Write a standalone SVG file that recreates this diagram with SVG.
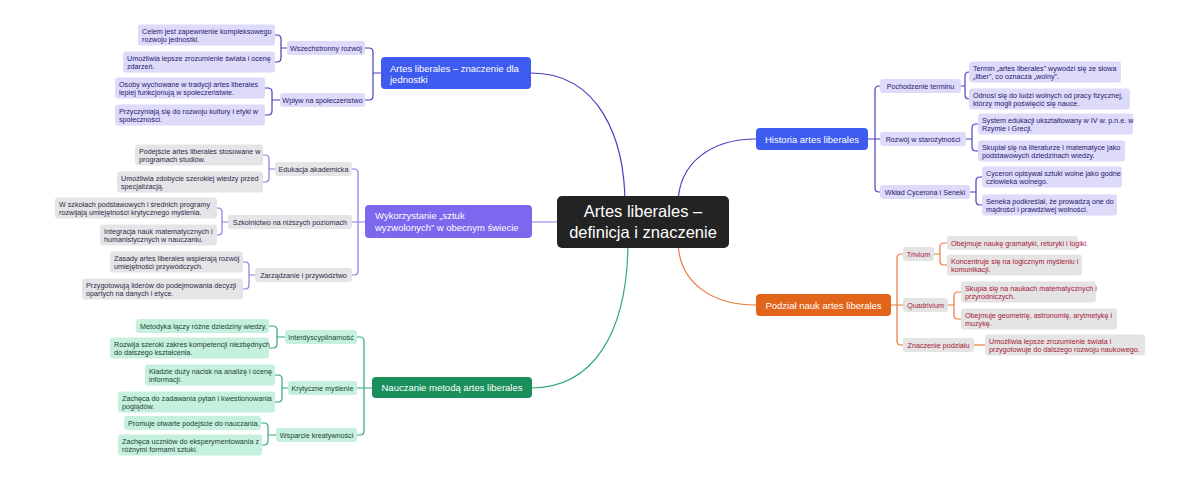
<svg xmlns="http://www.w3.org/2000/svg" width="1200" height="481" viewBox="0 0 1200 481">
<style>
text{font-family:"Liberation Sans",Arial,sans-serif;font-size:7.2px}
.c{fill:none;stroke-width:1.2}
.cB{stroke:#4a3fc0}.cP{stroke:#8a7ae6}.cG{stroke:#35a67a}.cO{stroke:#ea7a3e}
.fB{fill:#dedafa}.tB{fill:#25206a}
.fP{fill:#e5e5e8}.tP{fill:#2d2a45}
.fG{fill:#c5f0de}.tG{fill:#1b4334}
.fO{fill:#e4e4e4}.tO{fill:#a8173a}
.br{font-size:9.5px;fill:#fff}
.m{text-anchor:middle}
</style>
<rect width="1200" height="481" fill="#fff"/>
<g id="connectors">
<path class="c cB" d="M531 73C600 73 625 140 625 205"/>
<path class="c cP" d="M531 222H600"/>
<path class="c cG" d="M628 240C628 335 592 388 531 388"/>
<path class="c cB" d="M678 205C678 162 712 139 756 139"/>
<path class="c cO" d="M678 240C678 283 712 305 756 305"/>
<path class="c cB" d="M381 73H373V52Q373 48 369 48H365M381 73H373V96Q373 100 369 100H365"/>
<path class="c cB" d="M287 48H281V39Q281 35 277 35H275M287 48H281V58Q281 62 277 62H275"/>
<path class="c cB" d="M280 100H272V92Q272 88 268 88H265M280 100H272V111Q272 115 268 115H265"/>
<path class="c cP" d="M365 222H358V173Q358 169 354 169H352M365 222H352M365 222H358V271Q358 275 354 275H352"/>
<path class="c cP" d="M275 169H269V159Q269 155 265 155H263M275 169H269V178Q269 182 265 182H263"/>
<path class="c cP" d="M228 222H222V212Q222 208 218 208H217M228 222H222V231Q222 235 218 235H217"/>
<path class="c cP" d="M255 275H249V266Q249 262 245 262H243M255 275H249V285Q249 289 245 289H243"/>
<path class="c cG" d="M372 388H364V341Q364 337 360 337H357M372 388H357M372 388H364V431Q364 435 360 435H357"/>
<path class="c cG" d="M285 337H277V330Q277 326 273 326H269M285 337H277V344Q277 348 273 348H269"/>
<path class="c cG" d="M288 388H282V379Q282 375 278 375H275M288 388H282V398Q282 402 278 402H275"/>
<path class="c cG" d="M276 435H268V427Q268 423 264 423H261M276 435H268V441Q268 445 264 445H262"/>
<path class="c cB" d="M868 139H875V90Q875 86 879 86H880M868 139H880M868 139H875V188Q875 192 879 192H880"/>
<path class="c cB" d="M961 86H965V76Q965 72 969 72M961 86H965V95Q965 99 969 99"/>
<path class="c cB" d="M966 139H972V128Q972 124 976 124H978M966 139H972V147Q972 151 976 151H978"/>
<path class="c cB" d="M970 192H976V181Q976 177 980 177H982M970 192H976V201Q976 205 980 205H982"/>
<path class="c cO" d="M891 305H897V258Q897 254 901 254H903M891 305H903M891 305H897V341Q897 345 901 345H903"/>
<path class="c cO" d="M934 254H940V247Q940 243 944 243H947M934 254H940V261Q940 265 944 265H947"/>
<path class="c cO" d="M948 305H954V296Q954 292 958 292H961M948 305H954V315Q954 319 958 319H961"/>
<path class="c cO" d="M974 345H985"/>
</g>
<g id="center">
<rect x="557" y="196" width="172" height="52" rx="5" fill="#232323"/>
<text x="643" y="217" class="m" style="font-size:16.5px;fill:#fff">Artes liberales –</text>
<text x="643" y="238" class="m" style="font-size:16.5px;fill:#fff">definicja i znaczenie</text>
</g>
<g id="b1">
<rect x="381" y="57" width="150" height="32" rx="4" fill="#3e5bef"/>
<text x="390" y="72" class="br">Artes liberales – znaczenie dla</text>
<text x="390" y="83" class="br">jednostki</text>
</g>
<g id="b1s1"><rect x="287" y="41" width="78" height="14" rx="3" class="fB"/><text x="326" y="50.5" class="m tB">Wszechstronny rozwój</text></g>
<g id="b1s1l1"><rect x="138" y="24.5" width="137" height="21" rx="3" class="fB"/><text x="142" y="33.5" class="tB">Celem jest zapewnienie kompleksowego</text><text x="142" y="42" class="tB">rozwoju jednostki.</text></g>
<g id="b1s1l2"><rect x="123" y="51.5" width="152" height="21" rx="3" class="fB"/><text x="127" y="60.5" class="tB">Umożliwia lepsze zrozumienie świata i ocenę</text><text x="127" y="69" class="tB">zdarzeń.</text></g>
<g id="b1s2"><rect x="280" y="93" width="85" height="14" rx="3" class="fB"/><text x="322.5" y="102.5" class="m tB">Wpływ na społeczeństwo</text></g>
<g id="b1s2l1"><rect x="115" y="77.5" width="150" height="21" rx="3" class="fB"/><text x="119" y="86.5" class="tB">Osoby wychowane w tradycji artes liberales</text><text x="119" y="95" class="tB">lepiej funkcjonują w społeczeństwie.</text></g>
<g id="b1s2l2"><rect x="115" y="104.5" width="150" height="21" rx="3" class="fB"/><text x="119" y="113.5" class="tB">Przyczyniają się do rozwoju kultury i etyki w</text><text x="119" y="122" class="tB">społeczności.</text></g>
<g id="b2">
<rect x="365" y="205" width="167" height="33" rx="4" fill="#7b68ee"/>
<text x="375" y="219" class="br">Wykorzystanie „sztuk</text>
<text x="375" y="231" class="br">wyzwolonych” w obecnym świecie</text>
</g>
<g id="b2s1"><rect x="275" y="162" width="77" height="14" rx="3" class="fP"/><text x="313.5" y="171.5" class="m tP">Edukacja akademicka</text></g>
<g id="b2s1l1"><rect x="135" y="144.5" width="128" height="21" rx="3" class="fP"/><text x="139" y="153.5" class="tP">Podejście artes liberales stosowane w</text><text x="139" y="162" class="tP">programach studiów.</text></g>
<g id="b2s1l2"><rect x="117" y="171.5" width="146" height="21" rx="3" class="fP"/><text x="121" y="180.5" class="tP">Umożliwia zdobycie szerokiej wiedzy przed</text><text x="121" y="189" class="tP">specjalizacją.</text></g>
<g id="b2s2"><rect x="228" y="215" width="124" height="14" rx="3" class="fP"/><text x="290" y="224.5" class="m tP">Szkolnictwo na niższych poziomach</text></g>
<g id="b2s2l1"><rect x="55" y="197.5" width="162" height="21" rx="3" class="fP"/><text x="59" y="206.5" class="tP">W szkołach podstawowych i średnich programy</text><text x="59" y="215" class="tP">rozwijają umiejętności krytycznego myślenia.</text></g>
<g id="b2s2l2"><rect x="100" y="224.5" width="117" height="21" rx="3" class="fP"/><text x="104" y="233.5" class="tP">Integracja nauk matematycznych i</text><text x="104" y="242" class="tP">humanistycznych w nauczaniu.</text></g>
<g id="b2s3"><rect x="255" y="268" width="97" height="14" rx="3" class="fP"/><text x="303.5" y="277.5" class="m tP">Zarządzanie i przywództwo</text></g>
<g id="b2s3l1"><rect x="110" y="251.5" width="133" height="21" rx="3" class="fP"/><text x="114" y="260.5" class="tP">Zasady artes liberales wspierają rozwój</text><text x="114" y="269" class="tP">umiejętności przywódczych.</text></g>
<g id="b2s3l2"><rect x="82" y="278.5" width="161" height="21" rx="3" class="fP"/><text x="86" y="287.5" class="tP">Przygotowują liderów do podejmowania decyzji</text><text x="86" y="296" class="tP">opartych na danych i etyce.</text></g>
<g id="b3">
<rect x="372" y="377" width="160" height="21" rx="4" fill="#1b8f5c"/>
<text x="452" y="391" class="br m">Nauczanie metodą artes liberales</text>
</g>
<g id="b3s1"><rect x="285" y="330" width="72" height="14" rx="3" class="fG"/><text x="321" y="339.5" class="m tG">Interdyscyplinarność</text></g>
<g id="b3s1l1"><rect x="136" y="319" width="133" height="14" rx="3" class="fG"/><text x="140" y="328.5" class="tG">Metodyka łączy różne dziedziny wiedzy.</text></g>
<g id="b3s1l2"><rect x="110" y="337.5" width="159" height="21" rx="3" class="fG"/><text x="114" y="346.5" class="tG">Rozwija szeroki zakres kompetencji niezbędnych</text><text x="114" y="355" class="tG">do dalszego kształcenia.</text></g>
<g id="b3s2"><rect x="288" y="381" width="69" height="14" rx="3" class="fG"/><text x="322.5" y="390.5" class="m tG">Krytyczne myślenie</text></g>
<g id="b3s2l1"><rect x="145" y="364.5" width="130" height="21" rx="3" class="fG"/><text x="149" y="373.5" class="tG">Kładzie duży nacisk na analizę i ocenę</text><text x="149" y="382" class="tG">informacji.</text></g>
<g id="b3s2l2"><rect x="118" y="391.5" width="157" height="21" rx="3" class="fG"/><text x="122" y="400.5" class="tG">Zachęca do zadawania pytań i kwestionowania</text><text x="122" y="409" class="tG">poglądów.</text></g>
<g id="b3s3"><rect x="276" y="428" width="81" height="14" rx="3" class="fG"/><text x="316.5" y="437.5" class="m tG">Wsparcie kreatywności</text></g>
<g id="b3s3l1"><rect x="124" y="416" width="137" height="14" rx="3" class="fG"/><text x="128" y="425.5" class="tG">Promuje otwarte podejście do nauczania.</text></g>
<g id="b3s3l2"><rect x="118" y="434.5" width="144" height="21" rx="3" class="fG"/><text x="122" y="443.5" class="tG">Zachęca uczniów do eksperymentowania z</text><text x="122" y="452" class="tG">różnymi formami sztuki.</text></g>
<g id="b4">
<rect x="756" y="128" width="112" height="22" rx="4" fill="#3e5bef"/>
<text x="812" y="142.5" class="br m">Historia artes liberales</text>
</g>
<g id="b4s1"><rect x="880" y="79" width="81" height="14" rx="3" class="fB"/><text x="920.5" y="88.5" class="m tB">Pochodzenie terminu</text></g>
<g id="b4s1l1"><rect x="969" y="61.5" width="152" height="21" rx="3" class="fB"/><text x="973" y="70.5" class="tB">Termin „artes liberales” wywodzi się ze słowa</text><text x="973" y="79" class="tB">„liber”, co oznacza „wolny”.</text></g>
<g id="b4s1l2"><rect x="969" y="88.5" width="161" height="21" rx="3" class="fB"/><text x="973" y="97.5" class="tB">Odnosi się do ludzi wolnych od pracy fizycznej,</text><text x="973" y="106" class="tB">którzy mogli poświęcić się nauce.</text></g>
<g id="b4s2"><rect x="880" y="132" width="86" height="14" rx="3" class="fB"/><text x="923" y="141.5" class="m tB">Rozwój w starożytności</text></g>
<g id="b4s2l1"><rect x="978" y="113.5" width="155" height="21" rx="3" class="fB"/><text x="982" y="122.5" class="tB">System edukacji ukształtowany w IV w. p.n.e. w</text><text x="982" y="131" class="tB">Rzymie i Grecji.</text></g>
<g id="b4s2l2"><rect x="978" y="140.5" width="147" height="21" rx="3" class="fB"/><text x="982" y="149.5" class="tB">Skupiał się na literaturze i matematyce jako</text><text x="982" y="158" class="tB">podstawowych dziedzinach wiedzy.</text></g>
<g id="b4s3"><rect x="880" y="185" width="90" height="14" rx="3" class="fB"/><text x="925" y="194.5" class="m tB">Wkład Cycerona i Seneki</text></g>
<g id="b4s3l1"><rect x="982" y="166.5" width="140" height="21" rx="3" class="fB"/><text x="986" y="175.5" class="tB">Cyceron opisywał sztuki wolne jako godne</text><text x="986" y="184" class="tB">człowieka wolnego.</text></g>
<g id="b4s3l2"><rect x="982" y="194.5" width="135" height="21" rx="3" class="fB"/><text x="986" y="203.5" class="tB">Seneka podkreślał, że prowadzą one do</text><text x="986" y="212" class="tB">mądrości i prawdziwej wolności.</text></g>
<g id="b5">
<rect x="756" y="294" width="135" height="22" rx="4" fill="#e2651c"/>
<text x="823.5" y="308.5" class="br m">Podział nauk artes liberales</text>
</g>
<g id="b5s1"><rect x="903" y="247" width="31" height="14" rx="3" class="fO"/><text x="918.5" y="256.5" class="m tO">Trivium</text></g>
<g id="b5s1l1"><rect x="947" y="236" width="131" height="14" rx="3" class="fO"/><text x="951" y="245.5" class="tO">Obejmuje naukę gramatyki, retoryki i logiki.</text></g>
<g id="b5s1l2"><rect x="947" y="254.5" width="135" height="21" rx="3" class="fO"/><text x="951" y="263.5" class="tO">Koncentruje się na logicznym myśleniu i</text><text x="951" y="272" class="tO">komunikacji.</text></g>
<g id="b5s2"><rect x="903" y="298" width="45" height="14" rx="3" class="fO"/><text x="925.5" y="307.5" class="m tO">Quadrivium</text></g>
<g id="b5s2l1"><rect x="961" y="281.5" width="135" height="21" rx="3" class="fO"/><text x="965" y="290.5" class="tO">Skupia się na naukach matematycznych i</text><text x="965" y="299" class="tO">przyrodniczych.</text></g>
<g id="b5s2l2"><rect x="961" y="308.5" width="156" height="21" rx="3" class="fO"/><text x="965" y="317.5" class="tO">Obejmuje geometrię, astronomię, arytmetykę i</text><text x="965" y="326" class="tO">muzykę.</text></g>
<g id="b5s3"><rect x="903" y="338" width="71" height="14" rx="3" class="fO"/><text x="938.5" y="347.5" class="m tO">Znaczenie podziału</text></g>
<g id="b5s3l1"><rect x="985" y="334.5" width="160" height="21" rx="3" class="fO"/><text x="989" y="343.5" class="tO">Umożliwia lepsze zrozumienie świata i</text><text x="989" y="352" class="tO">przygotowuje do dalszego rozwoju naukowego.</text></g>
</svg>
